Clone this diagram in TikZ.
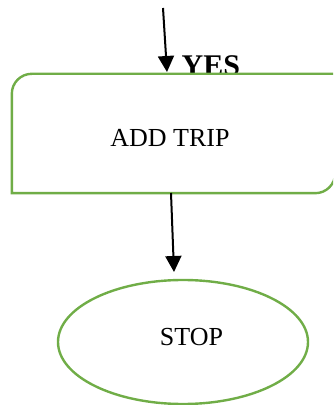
\documentclass[tikz,border=0pt]{standalone}
\usepackage{fontspec}
\setmainfont{Liberation Serif}
\usetikzlibrary{arrows.meta,shapes.geometric}
\definecolor{flowgreen}{HTML}{70AD47}
\begin{document}
\begin{tikzpicture}[x=1pt,y=1pt,
  flowline/.style={line width=2.4pt,draw=flowgreen},
  conn/.style={line width=2pt,-{Triangle[width=16pt,length=16pt]}},
  lbl/.style={font=\fontsize{26}{30}\selectfont,inner sep=0pt}]
\useasboundingbox (0,0) rectangle (333,405);
\clip (0,0) rectangle (333,405);

% incoming connector and its label (partly hidden behind the box)
\coordinate (in) at (163,397);
\coordinate (intip) at (167,333);
\draw[conn] (in) -- (intip);
\node[anchor=base west,inner sep=0pt,font=\fontsize{30}{33}\selectfont\bfseries] (yes) at (181.5,329.5) {YES};

% process box with two rounded corners
\node[minimum width=323pt,minimum height=119pt,inner sep=0pt,fill=white] (add) at (173.5,271.5) {};
\draw[flowline,fill=white] (add.south west) -- ([yshift=-20pt]add.north west)
  arc[start angle=180,end angle=90,radius=20pt] -- (add.north east)
  -- ([yshift=20pt]add.south east)
  arc[start angle=0,end angle=-90,radius=20pt] -- cycle;
\node[lbl] (addtext) at (170,267) {ADD TRIP};

% terminator
\node[ellipse,flowline,minimum width=250pt,minimum height=124pt,inner sep=0pt] (stop) at (183,63) {};
\node[lbl] (stoptext) at (191.5,67.5) {STOP};

\coordinate (out) at (171,212);
\coordinate (outtip) at (174,133);
\draw[conn] (out) -- (outtip);
\end{tikzpicture}
\end{document}
